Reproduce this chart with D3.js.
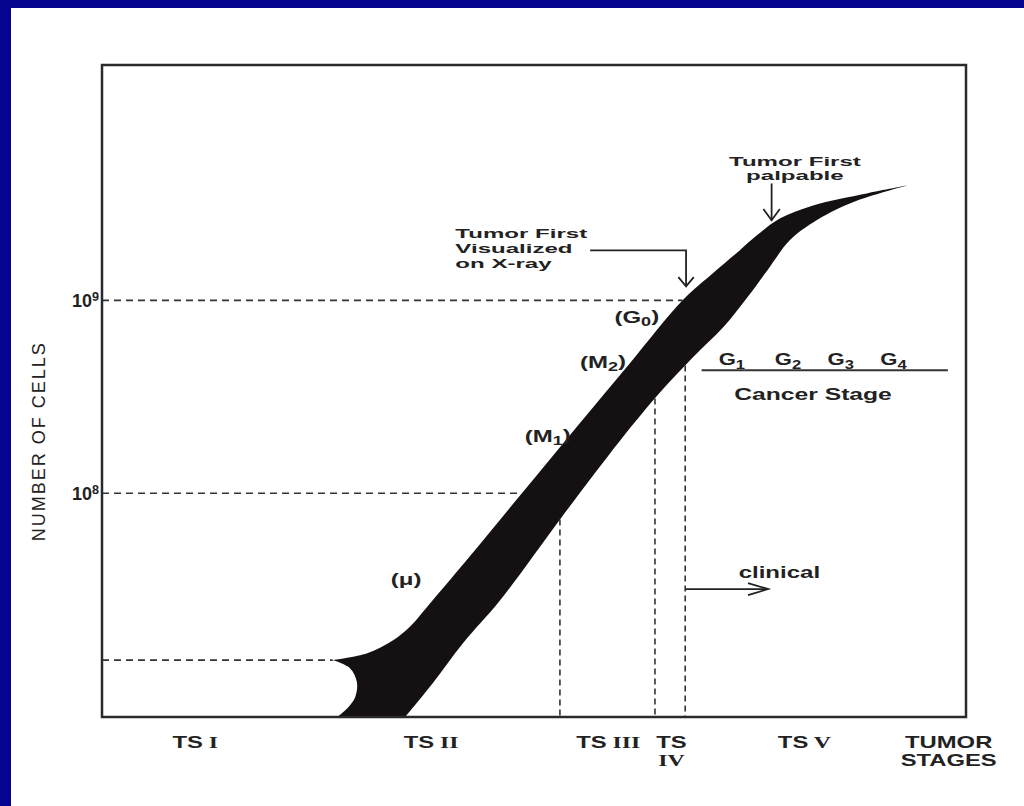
<!DOCTYPE html>
<html>
<head>
<meta charset="utf-8">
<script src="https://cdn.jsdelivr.net/npm/d3@7"></script>
<style>
  body { margin: 0; background: #fff; }
  svg { display: block; }
  text { font-family: "Liberation Sans", Arial, sans-serif; fill: #222; }
</style>
</head>
<body>
<div id="chart"></div>
<script>
// band edges: [position along tumor-stage axis (0-100), log10 number of cells]
const upperEdge = [[26.7,7.135],[30.7,7.171],[33.7,7.238],[35.6,7.306],[38.3,7.446],[42.6,7.674],[48.6,8.0],
  [55.3,8.363],[61.1,8.674],[67.2,9.0],[70.7,9.140],[73.8,9.259],[75.8,9.337],[78.5,9.425],[82.3,9.492],[88.5,9.554],[93.3,9.596]];
const lowerEdge = [[93.3,9.596],[86.9,9.508],[82.3,9.404],[79.6,9.311],[77.0,9.155],[74.7,9.016],[71.9,8.860],
  [68.4,8.705],[64.6,8.523],[60.0,8.275],[53.2,7.876],[46.1,7.446],[41.8,7.223],[38.3,7.016],[35.1,6.84]];
const tailEdge = [[27.2,6.84],[28.4,6.886],[29.3,6.943],[29.5,7.021],[28.7,7.093],[26.7,7.135]];

// y ticks (log10 cells) and horizontal guide levels
const yTicks = [8, 9];
const guideLevels = [7.135, 8, 9];
// vertical stage boundaries
const stageBounds = [53.0, 64.0, 67.5];

// x axis labels
const stageNames = ["TS I", "TS II", "TS III", "TS\nIV", "TS V", "TUMOR\nSTAGES"];
const stagePos = [10.8, 38.1, 58.6, 65.9, 81.3, 98.0];

// phase labels along the band
const phaseNames = ["(μ)", "(M_1)", "(M_2)", "(G_0)"];
const phaseX = [35.2, 51.6, 58.0, 61.9];
const phaseE = [7.523, 8.264, 8.648, 8.881];

// cancer stage grades
const gradeNames = ["G_1", "G_2", "G_3", "G_4"];
const gradeX = [72.9, 79.4, 85.5, 91.6];
const gradeE = 8.663;
const gradeRule = [[69.4, 8.637], [97.9, 8.637]];
const cancerStage = {text: "Cancer Stage", x: 82.3, e: 8.482};

// annotations
const xrayNote = ["Tumor First", "Visualized", "on X-ray"];
const xrayNoteAt = {x: 40.9, e: [9.321, 9.244, 9.166]};
const xrayArrow = [[56.5, 9.259], [67.6, 9.259], [67.6, 9.073]];
const palpNote = ["Tumor First", "palpable"];
const palpNoteAt = {x: 80.2, e: [9.699, 9.622]};
const palpArrow = [[77.5, 9.606], [77.5, 9.415]];
const clinicalNote = {text: "clinical", x: 78.4, e: 7.560};
const clinicalArrow = [[67.5, 7.503], [77.1, 7.503]];
const yTitle = {text: "NUMBER OF CELLS", e: 8.27};

const W = 1024, H = 806;
const margin = {top: 65, right: 58, bottom: 89, left: 102};

const svg = d3.select("#chart").append("svg").attr("width", W).attr("height", H);

// slide border
svg.append("rect").attr("x", 0).attr("y", 0).attr("width", W).attr("height", 8).attr("fill", "#04048e");
svg.append("rect").attr("x", 0).attr("y", 0).attr("width", 11).attr("height", H).attr("fill", "#04048e");

const x = d3.scaleLinear().domain([0, 100]).range([margin.left, W - margin.right]);
const y = d3.scaleLog().domain([Math.pow(10, 6.84), Math.pow(10, 10.22)]).range([H - margin.bottom, margin.top]);
const py = e => y(Math.pow(10, e));

function stretch(sel, f) {
  sel.each(function() {
    const w = this.getComputedTextLength();
    d3.select(this).attr("textLength", w * f).attr("lengthAdjust", "spacingAndGlyphs");
  });
}

// write "A_1" as A with subscript 1
function richText(sel, s) {
  const parts = s.split("_");
  sel.append("tspan").text(parts[0]);
  if (parts.length > 1) {
    sel.append("tspan").attr("dy", "0.25em").attr("font-size", "75%").text(parts[1][0]);
    if (parts[1].length > 1) sel.append("tspan").attr("dy", "-0.25em").text(parts[1].slice(1));
  }
}

function interpX(edge, e) {
  for (let i = 0; i < edge.length - 1; i++) {
    const a = edge[i], b = edge[i + 1];
    if ((e - a[1]) * (e - b[1]) <= 0) return a[0] + (b[0] - a[0]) * (e - a[1]) / (b[1] - a[1]);
  }
  return edge[0][0];
}
function interpE(edge, xv) {
  for (let i = 0; i < edge.length - 1; i++) {
    const a = edge[i], b = edge[i + 1];
    if ((xv - a[0]) * (xv - b[0]) <= 0) return a[1] + (b[1] - a[1]) * (xv - a[0]) / (b[0] - a[0]);
  }
  return edge[0][1];
}

// the growth band
const curve = d3.line().x(d => x(d[0])).y(d => py(d[1])).curve(d3.curveCatmullRom.alpha(0.5));
const straight = d3.line().x(d => x(d[0])).y(d => py(d[1]));
const bandPath = curve(upperEdge)
  + curve(lowerEdge).replace(/^M/, "L")
  + straight([lowerEdge[lowerEdge.length - 1], tailEdge[0]]).replace(/^M/, "L")
  + curve(tailEdge).replace(/^M/, "L") + "Z";
svg.append("path").attr("d", bandPath).attr("fill", "#151113");

// dashed guides
svg.selectAll(".hguide").data(guideLevels).join("line")
  .attr("class", "hguide")
  .attr("x1", x(0)).attr("x2", d => x(interpX(upperEdge, d)))
  .attr("y1", d => py(d)).attr("y2", d => py(d))
  .attr("stroke", "#333").attr("stroke-width", 1.6).attr("stroke-dasharray", "7,5");

svg.selectAll(".vguide").data(stageBounds).join("line")
  .attr("class", "vguide")
  .attr("x1", d => x(d)).attr("x2", d => x(d))
  .attr("y1", d => py(interpE(lowerEdge, d))).attr("y2", y.range()[0])
  .attr("stroke", "#333").attr("stroke-width", 1.6).attr("stroke-dasharray", "6,4");

// frame
svg.append("rect")
  .attr("x", x(0)).attr("y", y.range()[1])
  .attr("width", x(100) - x(0)).attr("height", y.range()[0] - y.range()[1])
  .attr("fill", "none").attr("stroke", "#2a2a2a").attr("stroke-width", 2.5);

// y axis
const yAxis = svg.append("g").attr("transform", `translate(${x(0)},0)`)
  .call(d3.axisLeft(y).tickValues(yTicks.map(e => Math.pow(10, e))).tickSize(0).tickPadding(3));
yAxis.select(".domain").remove();
yAxis.selectAll(".tick text").text(null)
  .attr("font-size", 18).attr("font-weight", "bold").attr("fill", "#222")
  .each(function(d) {
    const t = d3.select(this);
    t.append("tspan").text("10");
    t.append("tspan").attr("dy", "-0.45em").attr("font-size", "70%").text(Math.round(Math.log10(d)));
  });

svg.append("text")
  .attr("transform", `translate(45,${py(yTitle.e)}) rotate(-90)`)
  .attr("text-anchor", "middle").attr("font-size", 18).attr("fill", "#333")
  .attr("letter-spacing", 2)
  .text(yTitle.text);

// x stage labels
stageNames.forEach((name, i) => {
  name.split("\n").forEach((line, j) => {
    const t = svg.append("text")
      .attr("x", x(stagePos[i])).attr("y", y.range()[0] + 31 + j * 18)
      .attr("text-anchor", "middle").attr("font-size", 17).attr("font-weight", "bold");
    line.split(" ").forEach((w, k) => {
      const sp = t.append("tspan").text((k > 0 ? " " : "") + w);
      if (/^[IVX]+$/.test(w)) sp.attr("font-family", "'Liberation Serif', serif");
    });
    stretch(t, 1.4);
  });
});

// phase labels
phaseNames.forEach((name, i) => {
  const t = svg.append("text").attr("x", x(phaseX[i])).attr("y", py(phaseE[i]))
    .attr("text-anchor", "middle").attr("font-size", 16).attr("font-weight", "bold");
  richText(t, name);
  stretch(t, 1.5);
});

// grades
gradeNames.forEach((name, i) => {
  const t = svg.append("text").attr("x", x(gradeX[i])).attr("y", py(gradeE))
    .attr("text-anchor", "middle").attr("font-size", 17).attr("font-weight", "bold");
  richText(t, name);
  stretch(t, 1.3);
});
svg.append("path").attr("d", straight(gradeRule)).attr("stroke", "#333").attr("stroke-width", 2);
stretch(svg.append("text").attr("x", x(cancerStage.x)).attr("y", py(cancerStage.e))
  .attr("text-anchor", "middle").attr("font-size", 17).attr("font-weight", "bold").text(cancerStage.text), 1.45);

// notes
xrayNote.forEach((s, i) => {
  stretch(svg.append("text").attr("x", x(xrayNoteAt.x)).attr("y", py(xrayNoteAt.e[i]))
    .attr("font-size", 13).attr("font-weight", "bold").text(s), 1.85);
});
palpNote.forEach((s, i) => {
  stretch(svg.append("text").attr("x", x(palpNoteAt.x)).attr("y", py(palpNoteAt.e[i]))
    .attr("text-anchor", "middle").attr("font-size", 13).attr("font-weight", "bold").text(s), 1.85);
});
stretch(svg.append("text").attr("x", x(clinicalNote.x)).attr("y", py(clinicalNote.e))
  .attr("text-anchor", "middle").attr("font-size", 16).attr("font-weight", "bold").text(clinicalNote.text), 1.5);

// arrows with open heads
function arrow(pts, len, ang) {
  svg.append("path").attr("d", straight(pts)).attr("fill", "none").attr("stroke", "#222").attr("stroke-width", 1.8);
  const a = pts[pts.length - 2], b = pts[pts.length - 1];
  const x1 = x(a[0]), y1 = py(a[1]), x2 = x(b[0]), y2 = py(b[1]);
  const th = Math.atan2(y2 - y1, x2 - x1);
  const arm = s => [x2 - len * Math.cos(th + s * ang), y2 - len * Math.sin(th + s * ang)];
  const p = arm(1), q = arm(-1);
  svg.append("path").attr("d", `M${p[0]},${p[1]}L${x2},${y2}L${q[0]},${q[1]}`)
    .attr("fill", "none").attr("stroke", "#222").attr("stroke-width", 1.8);
}
arrow(xrayArrow, 12, Math.PI / 4.5);
arrow(palpArrow, 14, Math.PI / 5);
arrow(clinicalArrow, 21, Math.PI / 11);
</script>
</body>
</html>
